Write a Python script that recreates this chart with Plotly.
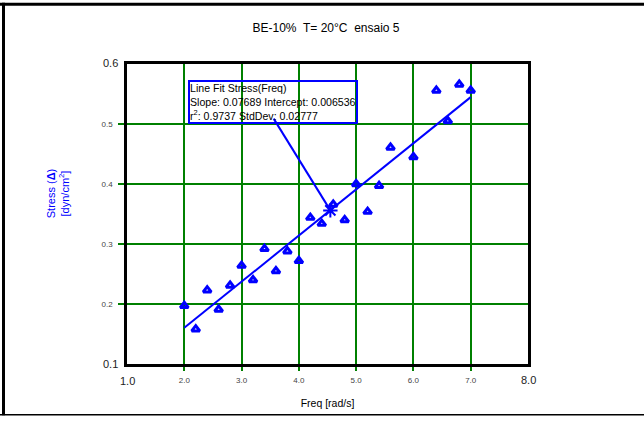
import plotly.graph_objects as go

# ---- data ----
freq = [2.0, 2.2, 2.4, 2.6, 2.8, 3.0, 3.2, 3.4, 3.6, 3.8, 4.0, 4.2, 4.4, 4.6,
        4.8, 5.0, 5.2, 5.4, 5.6, 6.0, 6.4, 6.6, 6.8, 7.0]
stress = [0.197, 0.158, 0.223, 0.191, 0.231, 0.264, 0.240, 0.292, 0.255, 0.288,
          0.272, 0.344, 0.334, 0.366, 0.340, 0.400, 0.354, 0.397, 0.461, 0.445,
          0.556, 0.505, 0.566, 0.556]
slope = 0.07689
intercept = 0.006536
fit_x = [2.0, 2.5, 3.0, 3.5, 4.0, 4.5, 5.0, 5.5, 6.0, 6.5, 7.0]
fit_y = [slope * x + intercept for x in fit_x]
center_pt = (4.55, 0.356)
label_anchor = (3.56, 0.509)
x_ticks = [2, 3, 4, 5, 6, 7]
x_tick_text = ["2.0", "3.0", "4.0", "5.0", "6.0", "7.0"]
y_ticks = [0.2, 0.3, 0.4, 0.5]
y_tick_text = ["0.2", "0.3", "0.4", "0.5"]

BLUE = "#0000ff"
GREEN = "#008000"
FONT = "Liberation Sans, Arial, sans-serif"

fig = go.Figure()
fig.add_trace(go.Scatter(x=fit_x, y=fit_y, mode="lines",
                         line=dict(color=BLUE, width=2), showlegend=False))
fig.add_trace(go.Scatter(x=freq, y=stress, mode="markers",
                         marker=dict(symbol="triangle-up-open", size=7, color=BLUE,
                                     line=dict(width=3, color=BLUE)),
                         showlegend=False))
fig.add_trace(go.Scatter(x=[center_pt[0]], y=[center_pt[1]], mode="markers",
                         marker=dict(symbol="asterisk-open", size=12, color=BLUE,
                                     line=dict(width=2, color=BLUE)),
                         showlegend=False))

# leader line from the label box to the centre point
fig.add_shape(type="line", xref="x", yref="y",
              x0=label_anchor[0], y0=label_anchor[1], x1=center_pt[0], y1=center_pt[1],
              line=dict(color=BLUE, width=2))

# label box
fig.add_annotation(xref="paper", yref="paper", x=(188 - 127) / 401, y=(368 - 80.5) / 304,
                   xanchor="left", yanchor="top", showarrow=False, align="left",
                   text="Line Fit Stress(Freq)<br>Slope: 0.07689 Intercept: 0.006536<br>"
                        "r<sup>2</sup>: 0.9737 StdDev: 0.02777",
                   font=dict(family=FONT, size=10.6, color="black"),
                   bordercolor=BLUE, borderwidth=2, borderpad=0, bgcolor="rgba(0,0,0,0)")

# end labels for axes
end_font = dict(family=FONT, size=11, color="#222222")
fig.add_annotation(xref="x", yref="paper", x=1.0, y=0, yshift=-9, xanchor="center",
                   yanchor="top", text="1.0", showarrow=False, font=end_font)
fig.add_annotation(xref="x", yref="paper", x=8.0, y=0, yshift=-8, xanchor="center",
                   yanchor="top", text="8.0", showarrow=False, font=end_font)
fig.add_annotation(xref="paper", yref="y", x=0, y=0.6, xshift=-7, yshift=1,
                   xanchor="right", yanchor="middle", text="0.6", showarrow=False,
                   font=end_font)
fig.add_annotation(xref="paper", yref="y", x=0, y=0.1, xshift=-7, yshift=0,
                   xanchor="right", yanchor="middle", text="0.1", showarrow=False,
                   font=end_font)

# y axis title
fig.add_annotation(xref="paper", yref="paper", x=(58 - 127) / 401, y=(368 - 196) / 304,
                   xanchor="center", yanchor="middle",
                   text="Stress (<b>Δ</b>)<br>[dyn/cm<sup>2</sup>]", textangle=-90,
                   showarrow=False, font=dict(family=FONT, size=11, color=BLUE))

# outer frame
fig.add_shape(type="line", xref="paper", yref="paper", x0=-127 / 401, x1=(644 - 127) / 401,
              y0=(368 - 3.5) / 304, y1=(368 - 3.5) / 304, line=dict(color="black", width=3))
fig.add_shape(type="line", xref="paper", yref="paper", x0=-123.5 / 401, x1=-123.5 / 401,
              y0=(368 - 420) / 304, y1=(368 - 2) / 304, line=dict(color="black", width=3))
fig.add_shape(type="line", xref="paper", yref="paper", x0=-127 / 401, x1=(644 - 127) / 401,
              y0=(368 - 419.5) / 304, y1=(368 - 419.5) / 304, line=dict(color="black", width=1.5))

fig.update_layout(
    width=644, height=421,
    margin=dict(l=127, r=116, t=64, b=53),
    paper_bgcolor="white", plot_bgcolor="white",
    title=dict(text="BE-10%  T= 20°C  ensaio 5", x=(326 - 0) / 644, xanchor="center",
               xref="paper" if False else "container",
               y=1 - 28 / 421, yanchor="middle",
               font=dict(family=FONT, size=12, color="black")),
    xaxis=dict(range=[1, 8], tickvals=x_ticks, ticktext=x_tick_text,
               showgrid=True, gridcolor=GREEN, gridwidth=2,
               showline=True, linecolor="black", linewidth=2.5, mirror=True,
               ticks="outside", ticklen=4, tickcolor=GREEN, tickwidth=2,
               ticklabelstandoff=3,
               tickfont=dict(family=FONT, size=8, color="#444444"),
               zeroline=False,
               title=dict(text="Freq [rad/s]", standoff=16,
                          font=dict(family=FONT, size=10.5, color="black"))),
    yaxis=dict(range=[0.1, 0.6], tickvals=y_ticks, ticktext=y_tick_text,
               showgrid=True, gridcolor=GREEN, gridwidth=2,
               showline=True, linecolor="black", linewidth=2.5, mirror=True,
               ticks="outside", ticklen=6, tickcolor=GREEN, tickwidth=2,
               ticklabelstandoff=4,
               tickfont=dict(family=FONT, size=8, color="#444444"),
               zeroline=False),
)

fig.write_html("out.html")
